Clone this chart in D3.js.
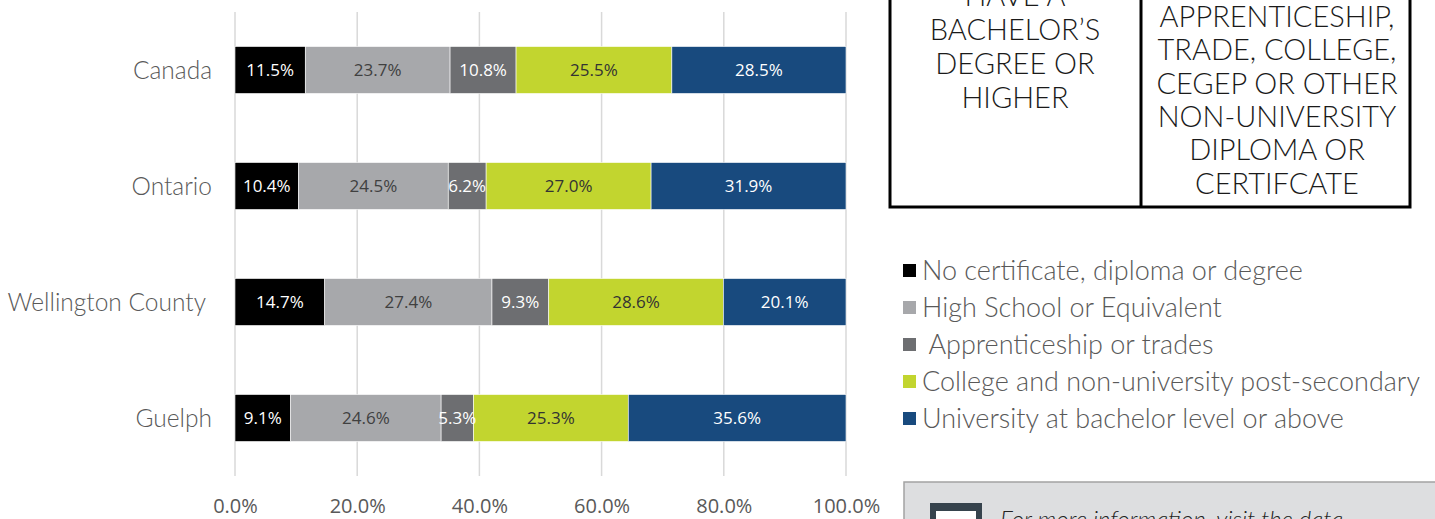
<!DOCTYPE html>
<html><head><meta charset="utf-8">
<script src="https://cdn.jsdelivr.net/npm/d3@7"></script>
<style>
html,body{margin:0;padding:0;background:#fff;overflow:hidden}
svg{display:block}
text{white-space:pre}
</style></head>
<body>
<svg id="c" width="1435" height="519"></svg>
<script>
const categories = ["Canada", "Ontario", "Wellington County ", "Guelph"];
const seriesNames = ["No certificate, diploma or degree", "High School or Equivalent", " Apprenticeship or trades", "College and non-university post-secondary", "University at bachelor level or above"];
const noCertificate = [11.5, 10.4, 14.7, 9.1];
const highSchool = [23.7, 24.5, 27.4, 24.6];
const apprenticeship = [10.8, 6.2, 9.3, 5.3];
const college = [25.5, 27.0, 28.6, 25.3];
const university = [28.5, 31.9, 20.1, 35.6];
const tickValues = [0, 0.2, 0.4, 0.6, 0.8, 1.0];
const leftTableLines = ["HAVE A", "BACHELOR\u2019S", "DEGREE OR", "HIGHER"];
const rightTableLines = ["APPRENTICESHIP,", "TRADE, COLLEGE,", "CEGEP OR OTHER", "NON-UNIVERSITY", "DIPLOMA OR", "CERTIFCATE"];
const infoText = "For more information, visit the data";

const colors = ["#000000", "#a7a8ab", "#6d6e71", "#c2d52f", "#184a7e"];
const labelColors = ["#ffffff", "#404040", "#ffffff", "#333333", "#ffffff"];
const keys = ["k0","k1","k2","k3","k4"];
const allSeries = [noCertificate, highSchool, apprenticeship, college, university];

const rows = categories.map((c, i) => {
  const r = {cat: c};
  keys.forEach((k, j) => r[k] = allSeries[j][i]);
  return r;
});

const svg = d3.select("#c");
const x = d3.scaleLinear().domain([0, 1]).range([235, 846]);
const y = d3.scaleBand().domain(categories).range([12, 476]).paddingInner(0.595).paddingOuter(0.2975);

// gridlines
svg.append("g").selectAll("line").data(tickValues).join("line")
  .attr("x1", d => x(d)).attr("x2", d => x(d))
  .attr("y1", 12).attr("y2", 476)
  .attr("stroke", "#d9d9d9").attr("stroke-width", 1.5);

// x axis tick labels
const xAxis = d3.axisBottom(x).tickValues(tickValues).tickSize(0).tickPadding(0)
  .tickFormat(d => (d * 100).toFixed(1) + "%");
const gx = svg.append("g").attr("transform", "translate(0,499)").call(xAxis);
gx.select(".domain").remove();
gx.selectAll("text").attr("font-family", "'Open Sans', sans-serif").attr("font-size", 20)
  .attr("fill", "#595959").attr("dy", "0.72em");

// y axis labels
const yAxis = d3.axisLeft(y).tickSize(0).tickPadding(0);
const gy = svg.append("g").attr("transform", "translate(212,0)").call(yAxis);
gy.select(".domain").remove();
gy.selectAll("text").attr("font-family", "Lato, sans-serif").attr("font-weight", 300).attr("font-size", 24.5)
  .attr("fill", "#595959").attr("dy", "0.35em");

const stack = d3.stack().keys(keys).offset(d3.stackOffsetExpand);
const stacked = stack(rows);

const layers = svg.append("g").selectAll("g").data(stacked).join("g")
  .attr("fill", (d, i) => colors[i]);
layers.selectAll("rect").data(d => d).join("rect")
  .attr("x", d => x(d[0])).attr("width", d => x(d[1]) - x(d[0]))
  .attr("y", d => y(d.data.cat)).attr("height", y.bandwidth())
  .attr("stroke", "#ffffff").attr("stroke-width", 0.6);

const labels = svg.append("g").selectAll("g").data(stacked).join("g");
labels.each(function(layer, i) {
  d3.select(this).selectAll("text").data(layer).join("text")
    .attr("x", d => (x(d[0]) + x(d[1])) / 2)
    .attr("y", d => y(d.data.cat) + y.bandwidth() / 2)
    .attr("dy", "0.36em").attr("text-anchor", "middle")
    .attr("font-family", "'Open Sans', sans-serif").attr("font-size", 17)
    .attr("fill", labelColors[i])
    .text(d => d.data[layer.key].toFixed(1) + "%");
});

// table box top right
const tb = svg.append("g");
tb.append("rect").attr("x", 890).attr("y", -10).attr("width", 520).attr("height", 217)
  .attr("fill", "#fff").attr("stroke", "#000").attr("stroke-width", 3);
tb.append("line").attr("x1", 1141).attr("x2", 1141).attr("y1", -10).attr("y2", 207)
  .attr("stroke", "#000").attr("stroke-width", 3);
tb.append("g").selectAll("text").data(leftTableLines).join("text")
  .attr("x", 1015).attr("y", (d, i) => 6 + i * 34)
  .attr("text-anchor", "middle").attr("font-family", "Lato, sans-serif").attr("font-weight", 300)
  .attr("font-size", 29).attr("fill", "#1a1a1a").text(d => d);
tb.append("g").selectAll("text").data(rightTableLines).join("text")
  .attr("x", 1277).attr("y", (d, i) => 27 + i * 33.3)
  .attr("text-anchor", "middle").attr("font-family", "Lato, sans-serif").attr("font-weight", 300)
  .attr("font-size", 29).attr("fill", "#1a1a1a").text(d => d);

// legend
const lg = svg.append("g").attr("transform", "translate(903,0)");
const li = lg.selectAll("g").data(seriesNames).join("g")
  .attr("transform", (d, i) => `translate(0,${271 + i * 37})`);
li.append("rect").attr("x", 0).attr("y", -7).attr("width", 13).attr("height", 13)
  .attr("fill", (d, i) => colors[i]);
li.append("text").attr("x", 19).attr("y", 0).attr("dy", "0.35em")
  .attr("font-family", "Lato, sans-serif").attr("font-weight", 300).attr("font-size", 27).attr("fill", "#595959")
  .text(d => d);

// info box bottom right
const ib = svg.append("g");
ib.append("rect").attr("x", 904).attr("y", 482).attr("width", 560).attr("height", 60)
  .attr("fill", "#dddee0").attr("stroke", "#a3a3a3").attr("stroke-width", 1.5);
ib.append("rect").attr("x", 930).attr("y", 503).attr("width", 52).attr("height", 40)
  .attr("fill", "#36434d");
ib.append("rect").attr("x", 936).attr("y", 511).attr("width", 40).attr("height", 30)
  .attr("fill", "#ffffff");
ib.append("text").attr("x", 1000).attr("y", 528)
  .attr("font-family", "Lato, sans-serif").attr("font-style", "italic").attr("font-weight", 300)
  .attr("font-size", 24).attr("fill", "#222").text(infoText);
</script>
</body></html>
